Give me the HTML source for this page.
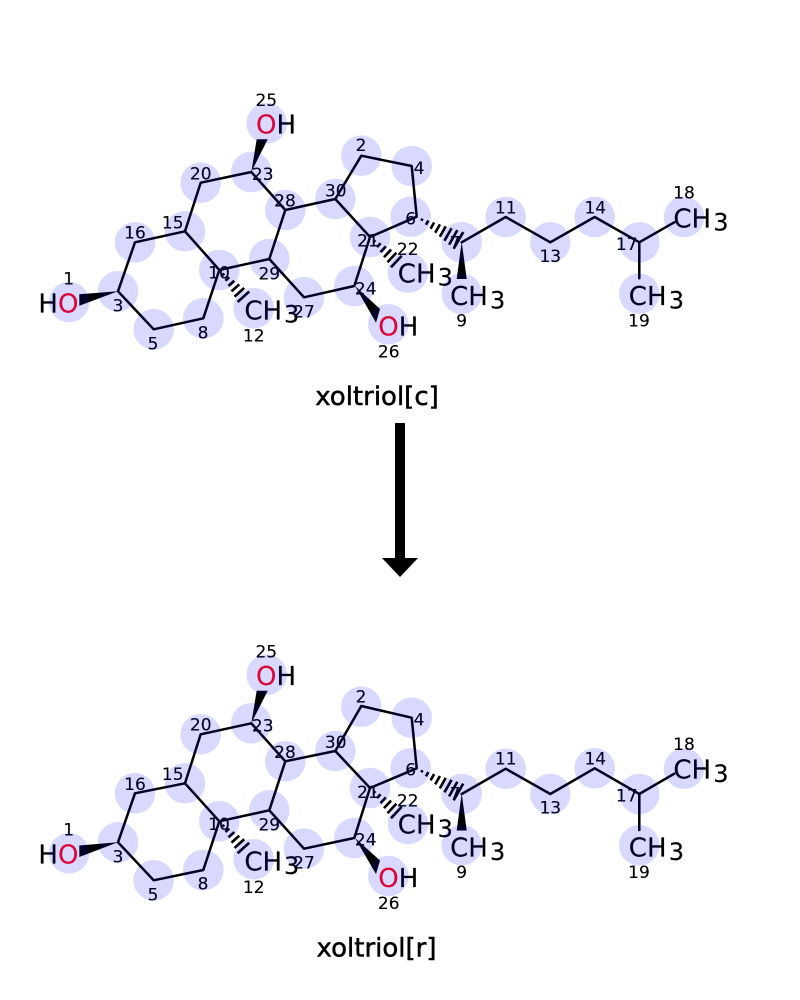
<!DOCTYPE html>
<html><head><meta charset="utf-8"><style>html,body{margin:0;padding:0;background:#fff}svg{display:block}text{font-family:"DejaVu Sans",sans-serif}</style></head>
<body>
<svg width="800" height="1000" viewBox="0 0 800 1000" xmlns="http://www.w3.org/2000/svg">
<defs>
<g id="h40" stroke="#000" stroke-width="2.6">
<line x1="6" y1="-1.3" x2="6" y2="1.3"/><line x1="12" y1="-2.6" x2="12" y2="2.6"/><line x1="18" y1="-3.9" x2="18" y2="3.9"/><line x1="24" y1="-5.2" x2="24" y2="5.2"/><line x1="30" y1="-6.5" x2="30" y2="6.5"/><line x1="36" y1="-7.8" x2="36" y2="7.8"/>
</g>
<g id="h52" stroke="#000" stroke-width="2.6">
<line x1="6" y1="-1.2" x2="6" y2="1.2"/><line x1="12" y1="-2.4" x2="12" y2="2.4"/><line x1="18" y1="-3.6" x2="18" y2="3.6"/><line x1="24" y1="-4.8" x2="24" y2="4.8"/><line x1="30" y1="-6" x2="30" y2="6"/><line x1="36" y1="-7.2" x2="36" y2="7.2"/><line x1="42" y1="-8.4" x2="42" y2="8.4"/><line x1="48" y1="-9.6" x2="48" y2="9.6"/>
</g>
<g id="lab">
<g font-size="26" fill="#000" stroke="#000" stroke-width=".15">
<text x="38.4" y="312.3">H<tspan fill="#ff0a18" stroke="#ff0a18">O</tspan></text>
<text x="256" y="133.7"><tspan fill="#ff0a18" stroke="#ff0a18">O</tspan>H</text>
<text x="378.3" y="335.7"><tspan fill="#ff0a18" stroke="#ff0a18">O</tspan>H</text>
<text x="244.4" y="319.3">CH</text><text x="284" y="322.7" font-size="24">3</text>
<text x="397.8" y="282.3">CH</text><text x="437.6" y="285.7" font-size="24">3</text>
<text x="450.1" y="305">CH</text><text x="490" y="308.4" font-size="24">3</text>
<text x="673.4" y="227.3">CH</text><text x="713.3" y="230.7" font-size="24">3</text>
<text x="628.8" y="305">CH</text><text x="668.7" y="308.4" font-size="24">3</text>
</g>
<g font-size="17" fill="#000" text-anchor="middle" stroke="#000" stroke-width=".12">
<text x="68.7" y="284.3">1</text><text x="361" y="151">2</text><text x="118" y="311.3">3</text><text x="419" y="174">4</text><text x="153" y="349.3">5</text><text x="410.7" y="224.3">6</text><text x="455" y="248.3">7</text><text x="203" y="338.3">8</text><text x="461.7" y="326.7">9</text><text x="219" y="278.7">10</text><text x="505.7" y="213.3">11</text><text x="253.7" y="341.7">12</text><text x="550.3" y="262">13</text><text x="595.3" y="213.3">14</text><text x="172.7" y="228.7">15</text><text x="135" y="238.7">16</text><text x="626.7" y="250">17</text><text x="684" y="198.7">18</text><text x="639" y="326.7">19</text><text x="200.7" y="179.3">20</text><text x="368" y="246.7">21</text><text x="407.7" y="255">22</text><text x="262.7" y="180">23</text><text x="365.7" y="294.3">24</text><text x="266.3" y="106">25</text><text x="388.7" y="357.7">26</text><text x="304" y="317.3">27</text><text x="285" y="206.7">28</text><text x="269.3" y="279.3">29</text><text x="335.7" y="196.7">30</text>
</g>
</g>
</defs>

<!-- top molecule -->
<g fill="none" stroke="#000" stroke-width="2.5" stroke-linejoin="round" stroke-linecap="round">
<polyline points="118,291.3 153.7,329.3 203.3,318.3 219.3,270 185,231.3 135,242.3 118,291.3"/>
<polyline points="185,231.3 200.7,182.7 251.3,172 285.3,210 269.3,259 219.3,270"/>
<polyline points="269.3,259 304,297.3 354.3,286 370,237 335.3,199 285.3,210"/>
<polyline points="335.3,199 361.3,155.7 411.7,166 416.7,216.7 370,237"/>
<polyline points="461.7,242.3 505.7,217 550.3,242.3 594.7,217 639.3,242.3 674.3,222.3"/>
<line x1="639.3" y1="242.3" x2="639.3" y2="278.3"/>
</g>
<polygon points="118,291.3 79.3,294.3 79.3,305.7"/>
<polygon points="251.3,172 256.7,139.3 267.7,139.3"/>
<polygon points="355,286 380,309 376,322.7"/>
<polygon points="461.7,241.7 456.7,279 466.7,279"/>
<use href="#h40" transform="translate(219.3,270) rotate(48)"/>
<use href="#h40" transform="translate(370,237) rotate(43)"/>
<use href="#h52" transform="translate(416.7,216.7) rotate(29.6)"/>
<use href="#lab"/>
<text x="377" y="405" font-size="26" text-anchor="middle" fill="#000" stroke="#000" stroke-width=".5">xoltriol[c]</text>
<g fill="#0000ff" fill-opacity=".15">
<circle cx="69" cy="302" r="20.3"/><circle cx="361.3" cy="155.7" r="20.3"/><circle cx="118" cy="291.3" r="20.3"/><circle cx="411.7" cy="166" r="20.3"/><circle cx="153.7" cy="329.3" r="20.3"/><circle cx="410.7" cy="216.7" r="20.3"/><circle cx="461.7" cy="242.3" r="20.3"/><circle cx="203.3" cy="318.3" r="20.3"/><circle cx="461.7" cy="293.7" r="20.3"/><circle cx="219.3" cy="270" r="20.3"/><circle cx="505.7" cy="217" r="20.3"/><circle cx="253.7" cy="308.3" r="20.3"/><circle cx="550.3" cy="242.3" r="20.3"/><circle cx="594.7" cy="217" r="20.3"/><circle cx="185" cy="231.3" r="20.3"/><circle cx="135" cy="242.3" r="20.3"/><circle cx="639.3" cy="242.3" r="20.3"/><circle cx="684" cy="217" r="20.3"/><circle cx="639.3" cy="293.7" r="20.3"/><circle cx="200.7" cy="182.7" r="20.3"/><circle cx="370" cy="237" r="20.3"/><circle cx="408" cy="272.7" r="20.3"/><circle cx="251.3" cy="172" r="20.3"/><circle cx="354.3" cy="286" r="20.3"/><circle cx="266.7" cy="123.3" r="20.3"/><circle cx="388.3" cy="324.3" r="20.3"/><circle cx="304" cy="297.3" r="20.3"/><circle cx="285.3" cy="210" r="20.3"/><circle cx="269.3" cy="259" r="20.3"/><circle cx="335.3" cy="199" r="20.3"/>
</g>

<!-- arrow -->
<rect x="395" y="423" width="10" height="136" fill="#000"/>
<polygon points="382,558 418,558 400,577" fill="#000"/>

<!-- bottom molecule -->
<g fill="none" stroke="#000" stroke-width="2.5" stroke-linejoin="round" stroke-linecap="round">
<polyline points="118,842.3 153.7,880.3 203.3,870 219.3,821.3 185,783.3 135,793.3 118,842.3"/>
<polyline points="185,783.3 200.7,734.3 251.3,723.3 285.3,761.3 269.3,810.3 219.3,821.3"/>
<polyline points="269.3,810.3 304,848.7 354.3,838 370,788 335.3,751 285.3,761.3"/>
<polyline points="335.3,751 361.3,706 411.7,717.7 416.7,768.3 370,788"/>
<polyline points="461.7,794 505.7,768.7 550.3,794 594.7,768.3 639.3,794 674.3,773.7"/>
<line x1="639.3" y1="794" x2="639.3" y2="830"/>
</g>
<polygon points="118,842.3 79.3,845.5 79.3,857"/>
<polygon points="251.3,723.3 256.7,690.7 267.7,690.7"/>
<polygon points="355,838 380,860.5 376,874"/>
<polygon points="461.7,793.4 456.7,830.5 466.7,830.5"/>
<use href="#h40" transform="translate(219.3,821.3) rotate(48)"/>
<use href="#h40" transform="translate(370,788) rotate(43)"/>
<use href="#h52" transform="translate(416.7,768.3) rotate(29.6)"/>
<use href="#lab" transform="translate(0,551.4)"/>
<text x="376.5" y="956.7" font-size="26" text-anchor="middle" fill="#000" stroke="#000" stroke-width=".5">xoltriol[r]</text>
<g fill="#0000ff" fill-opacity=".15">
<circle cx="69" cy="853.3" r="20.3"/><circle cx="361.3" cy="706.7" r="20.3"/><circle cx="118" cy="842.3" r="20.3"/><circle cx="411.7" cy="717.7" r="20.3"/><circle cx="153.7" cy="880.3" r="20.3"/><circle cx="410.7" cy="768.3" r="20.3"/><circle cx="461.7" cy="794" r="20.3"/><circle cx="203.3" cy="870" r="20.3"/><circle cx="461.7" cy="845.3" r="20.3"/><circle cx="219.3" cy="821.3" r="20.3"/><circle cx="505.7" cy="768.7" r="20.3"/><circle cx="253.7" cy="859.3" r="20.3"/><circle cx="550.3" cy="794" r="20.3"/><circle cx="594.7" cy="768.3" r="20.3"/><circle cx="185" cy="783.3" r="20.3"/><circle cx="135" cy="793.3" r="20.3"/><circle cx="639.3" cy="794" r="20.3"/><circle cx="684" cy="768.7" r="20.3"/><circle cx="639.3" cy="845.3" r="20.3"/><circle cx="200.7" cy="734.3" r="20.3"/><circle cx="370" cy="788" r="20.3"/><circle cx="408" cy="824" r="20.3"/><circle cx="251.3" cy="723.3" r="20.3"/><circle cx="354.3" cy="838" r="20.3"/><circle cx="266.7" cy="674.7" r="20.3"/><circle cx="388.3" cy="876" r="20.3"/><circle cx="304" cy="848.7" r="20.3"/><circle cx="285.3" cy="761.3" r="20.3"/><circle cx="269.3" cy="810.3" r="20.3"/><circle cx="335.3" cy="751" r="20.3"/>
</g>
</svg>
</body></html>
